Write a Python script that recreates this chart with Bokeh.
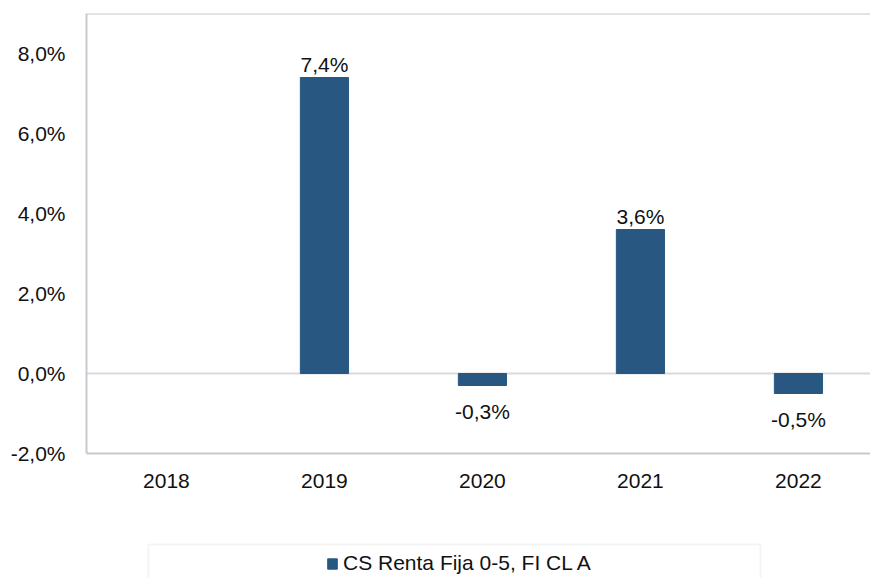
from bokeh.plotting import figure
from bokeh.models import (ColumnDataSource, Range1d, FixedTicker, Span, BoxAnnotation,
                          Legend, LegendItem)
from bokeh.core.properties import value
from bokeh.embed import file_html
from bokeh.resources import INLINE

# ---- data ----
years = ["2018", "2019", "2020", "2021", "2022"]
returns = [None, 7.4, -0.3, 3.6, -0.5]
y_ticks = [-2, 0, 2, 4, 6, 8]
y_tick_labels = ["-2,0%", "0,0%", "2,0%", "4,0%", "6,0%", "8,0%"]
series_name = "CS Renta Fija 0-5, FI CL A"

FONT = "Liberation Sans"
FS = "21px"
BAR = "#285882"
AXIS = "#C8C8D1"
Y_MIN, Y_MAX = -2, 9

xs = list(range(len(years)))
tops = [float("nan") if v is None else v for v in returns]
labels = ["" if v is None else f"{v:.1f}%".replace(".", ",") for v in returns]
offs = [0 if v is None else (-13 if v > 0 else 26) for v in returns]
src = ColumnDataSource(dict(x=xs, top=tops, label=labels, off=offs,
                            ly=[0 if v is None else v for v in returns]))

# frame extends to the bottom of the canvas so the legend can live inside it
p = figure(width=870, height=578, output_backend="svg", toolbar_location=None,
           x_range=Range1d(-0.506, 4.456), y_range=Range1d(Y_MAX - 565 / 40, Y_MAX),
           min_border_left=86, min_border_right=0, min_border_top=13, min_border_bottom=0)
p.outline_line_color = None
p.background_fill_color = "white"
p.border_fill_color = "white"

bars = p.vbar(x="x", top="top", bottom=0, width=0.305, source=src,
              fill_color=BAR, line_color=BAR)

p.text(x="x", y="ly", text="label", source=src, y_offset="off",
       text_align="center", text_baseline="middle",
       text_font=value(FONT), text_font_size=FS, text_color="#111111")

# axes
p.xaxis.ticker = FixedTicker(ticks=xs)
p.xaxis.major_label_overrides = {i: y for i, y in enumerate(years)}
p.xaxis.fixed_location = Y_MIN
p.yaxis.ticker = FixedTicker(ticks=y_ticks)
p.yaxis.major_label_overrides = {t: l for t, l in zip(y_ticks, y_tick_labels)}
p.yaxis.bounds = (Y_MIN, Y_MAX)
for ax in (p.xaxis, p.yaxis):
    ax.axis_line_color = AXIS
    ax.axis_line_width = 2
    ax.major_tick_out = 0
    ax.major_tick_in = 0
    ax.minor_tick_out = 0
    ax.minor_tick_in = 0
    ax.major_label_text_font = FONT
    ax.major_label_text_font_size = FS
    ax.major_label_text_color = "#111111"
p.yaxis.major_label_standoff = 21
p.xaxis.major_label_standoff = 20

p.xgrid.visible = False
p.ygrid.ticker = FixedTicker(ticks=[0])
p.ygrid.grid_line_color = "#D9D9DF"
p.ygrid.grid_line_width = 2

p.add_layout(Span(location=Y_MAX, dimension="width", line_color=AXIS, line_width=2))

# legend box + legend
p.add_layout(BoxAnnotation(left=62, right=674, top=34, bottom=-10,
                           left_units="screen", right_units="screen",
                           top_units="screen", bottom_units="screen",
                           fill_alpha=0, line_color="#DCDCDC", line_width=2))
legend = Legend(items=[LegendItem(label=series_name, renderers=[bars])],
                location=(240, 3), orientation="horizontal",
                border_line_color=None, background_fill_alpha=0,
                padding=0, margin=0, glyph_width=12, glyph_height=13,
                label_standoff=5, label_text_font=FONT, label_text_font_size=FS,
                label_text_color="#111111")
p.add_layout(legend)

open("out.html", "w").write(file_html(p, INLINE))
